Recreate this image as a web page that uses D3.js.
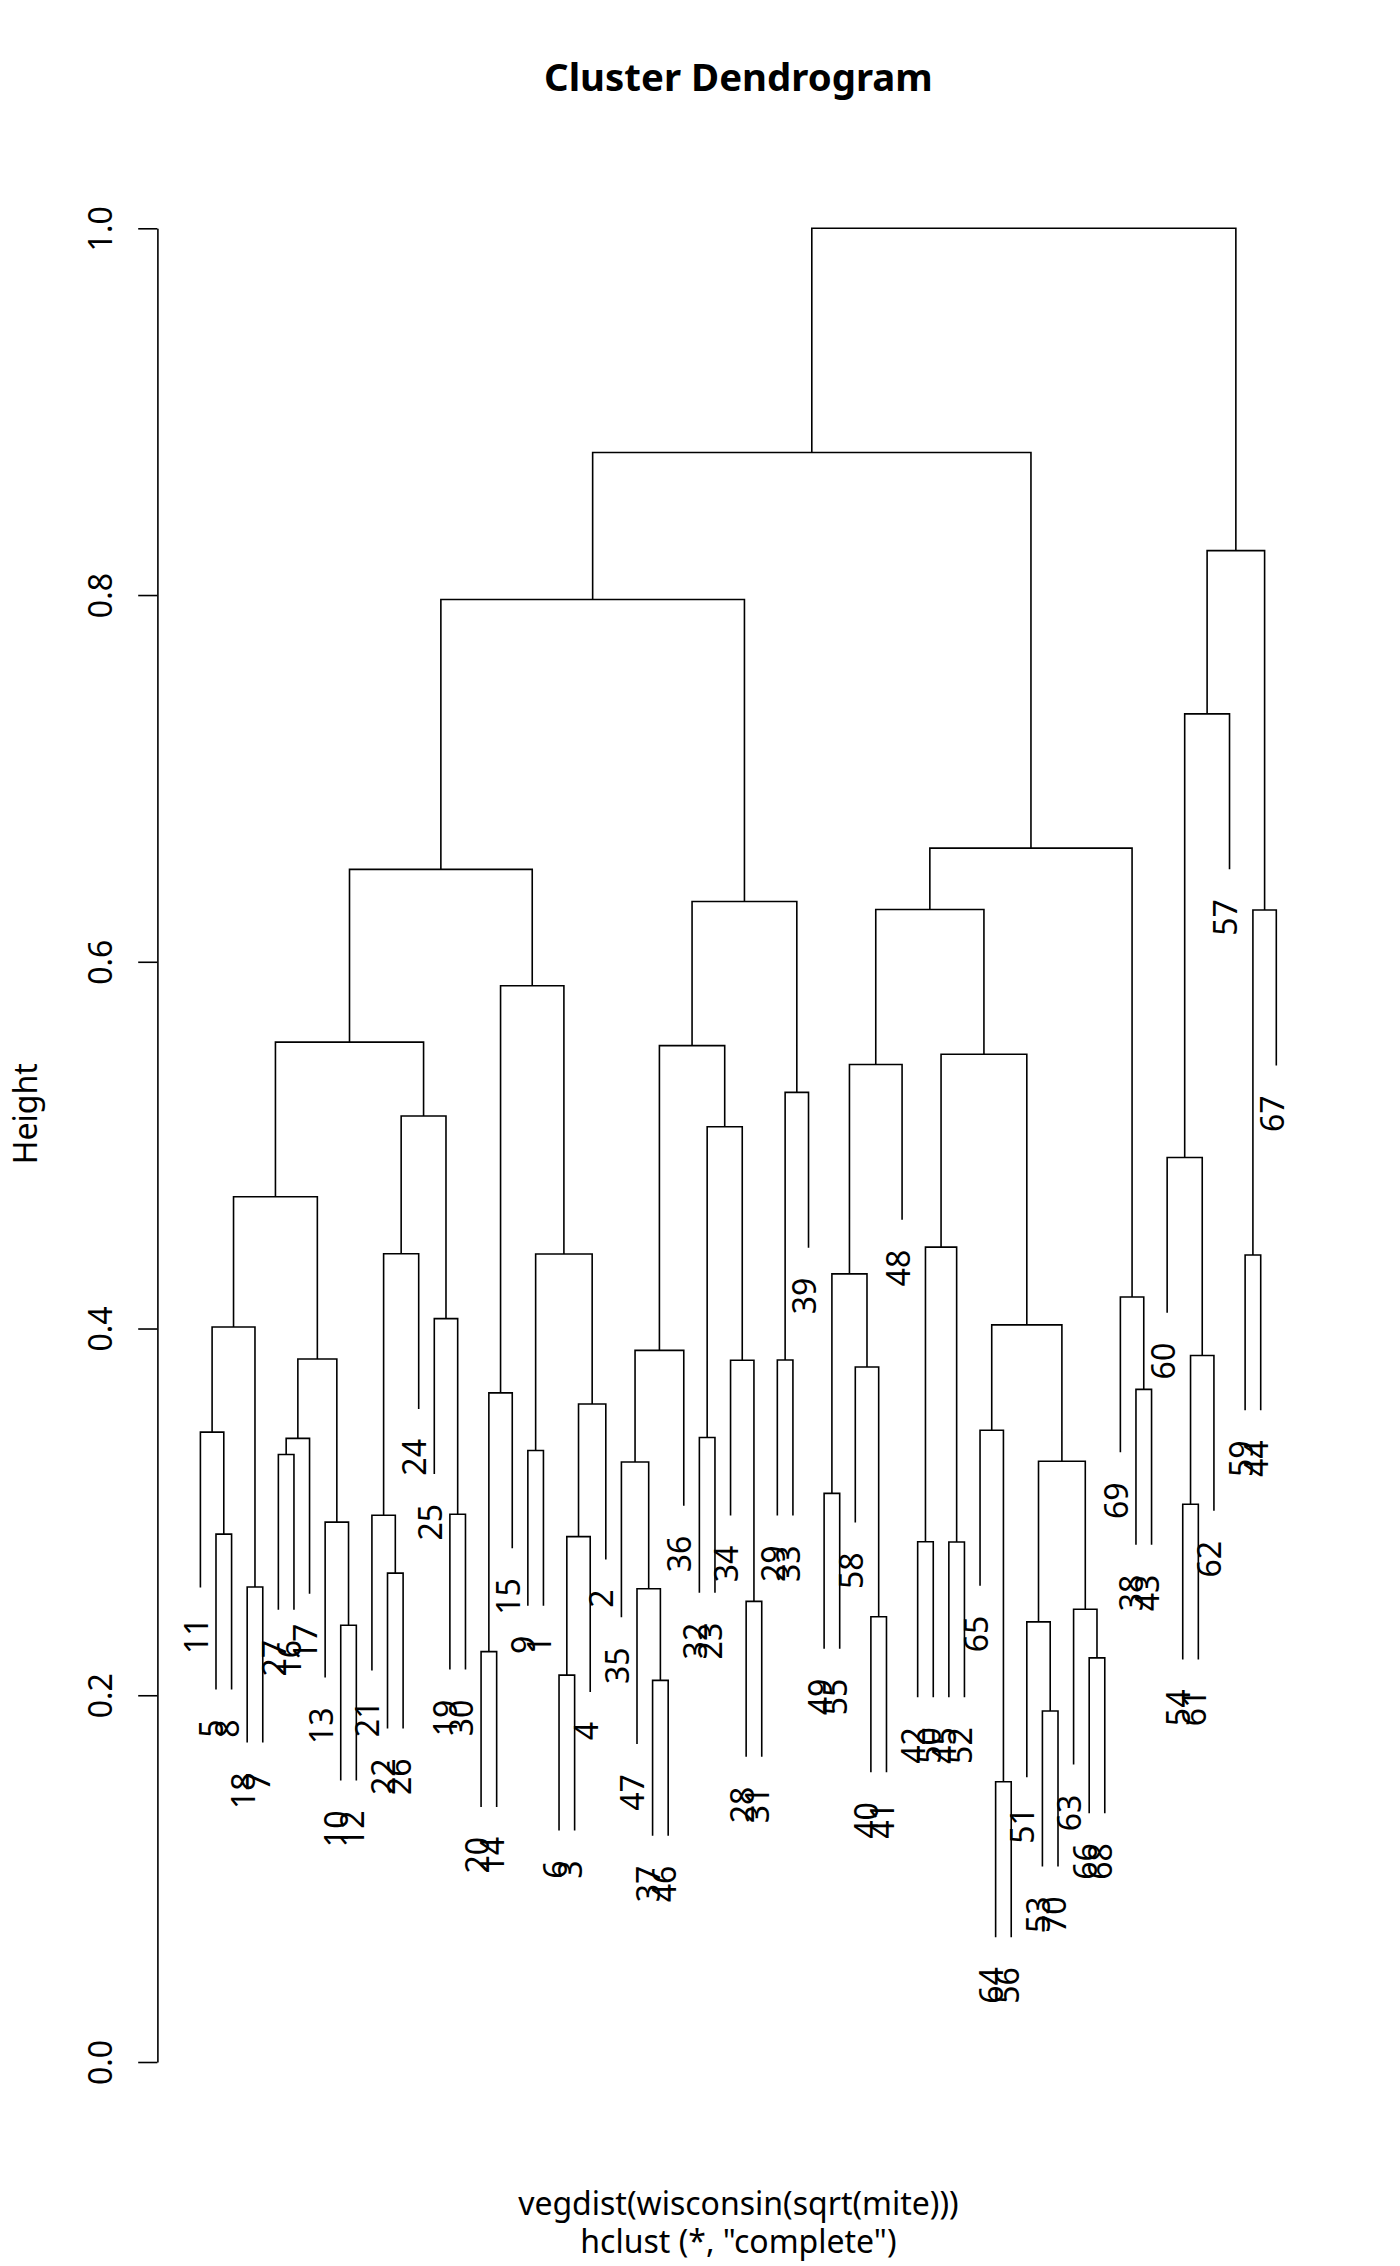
<!DOCTYPE html>
<html><head><meta charset="utf-8">
<script src="https://cdn.jsdelivr.net/npm/d3@7"></script>
<style>
html,body{margin:0;padding:0;background:#fff;}
svg{display:block;}
text{font-family:"Noto Sans","Open Sans",sans-serif;fill:#000;}
</style></head><body>
<svg id="chart" width="1400" height="2266"></svg>
<script>
// ---- data ----
const leafOrder = [11,5,8,18,7,27,16,17,13,10,12,21,22,26,24,25,19,30,20,14,
  15,9,1,6,3,4,2,35,47,37,46,36,32,23,34,28,31,29,33,39,
  49,55,58,40,41,48,42,50,45,52,65,64,56,51,53,70,63,66,68,69,
  38,43,60,54,61,62,57,59,44,67];
// R-style merge table: negative = site number, positive = earlier merge row (1-based)
const mergeLeft  = [-64,-53,-37,-6,-66,-20,-10,-51,-40,-63,-28,-47,-18,-22,-45,-42,4,-5,-13,-21,
  -19,-54,-49,-35,8,-27,-9,26,-32,-11,-65,17,6,-38,-58,-34,-29,28,22,24,
  30,31,-25,-69,23,-59,27,20,16,41,-60,29,48,37,45,49,40,50,33,46,
  55,57,58,61,51,63,65,66,68];
const mergeRight = [-56,-70,-46,-3,-68,-14,-12,2,-41,5,-31,3,-7,-26,-52,-50,-4,-8,7,14,
  -30,-61,-55,12,10,-16,-1,-17,-23,18,1,-2,-15,-43,9,11,-33,19,-62,-36,
  13,25,21,34,35,-44,32,-24,15,38,39,36,43,-39,-48,42,52,53,47,-67,
  56,54,59,44,-57,62,60,64,67];
const mergeHeight = [0.1528,0.1914,0.2081,0.2110,0.2204,0.2238,0.2382,0.2400,0.2428,0.2469,
  0.2512,0.2581,0.2590,0.2666,0.2836,0.2837,0.2865,0.2879,0.2944,0.2982,
  0.2987,0.3042,0.3101,0.3272,0.3276,0.3313,0.3335,0.3401,0.3406,0.3435,
  0.3445,0.3588,0.3649,0.3668,0.3790,0.3827,0.3828,0.3834,0.3853,0.3881,
  0.4008,0.4020,0.4054,0.4172,0.4298,0.4401,0.4406,0.4408,0.4444,0.4719,
  0.4933,0.5100,0.5159,0.5288,0.5440,0.5496,0.5543,0.5562,0.5869,0.6282,
  0.6285,0.6329,0.6504,0.6620,0.7352,0.7976,0.8242,0.8777,1.0000];
const yTicks = [0, 0.2, 0.4, 0.6, 0.8, 1.0];
const titleText = "Cluster Dendrogram";
const xLabelText = "vegdist(wisconsin(sqrt(mite)))";
const subText = 'hclust (*, "complete")';
const yLabelText = "Height";

// ---- layout ----
const svg = d3.select("#chart");
const plotLeft = 157.4, plotRight = 1319.4;
const cx = (plotLeft + plotRight) / 2;
const x = d3.scaleLinear().domain([1, leafOrder.length]).range([200.4, 1276.3]);
const y = d3.scaleLinear().domain([0, 1]).range([2062, 228.3]);
const hang = 0.1 * (d3.max(mergeHeight) - d3.min(mergeHeight));
const leafPos = new Map(leafOrder.map((s, i) => [s, i + 1]));
const lw = 1.6;

const nodeX = [];
const gTree = svg.append("g").attr("fill", "none").attr("stroke", "#000").attr("stroke-width", lw);
const leaves = [];
mergeHeight.forEach((h, i) => {
  const kids = [mergeLeft[i], mergeRight[i]].map(c => {
    if (c < 0) {
      const lx = x(leafPos.get(-c));
      const lh = h - hang;
      leaves.push({site: -c, x: lx, h: lh});
      return {x: lx, h: lh};
    }
    return {x: nodeX[c - 1], h: mergeHeight[c - 1]};
  });
  nodeX[i] = (kids[0].x + kids[1].x) / 2;
  const p = d3.path();
  p.moveTo(kids[0].x, y(kids[0].h));
  p.lineTo(kids[0].x, y(h));
  p.lineTo(kids[1].x, y(h));
  p.lineTo(kids[1].x, y(kids[1].h));
  gTree.append("path").attr("d", p.toString()).attr("stroke-linejoin", "miter").attr("stroke-linecap", "butt");
});

// leaf labels
svg.append("g").selectAll("text").data(leaves).join("text")
  .attr("transform", d => `translate(${d.x + 7.5},${y(d.h) + 30}) rotate(-90)`)
  .attr("text-anchor", "end")
  .attr("font-size", 32)
  .text(d => d.site);

// axis
const axis = d3.axisLeft(y).tickValues(yTicks).tickSize(19.2).tickSizeOuter(0).tickFormat(d3.format(".1f"));
const gA = svg.append("g").attr("transform", `translate(${plotLeft},0)`).call(axis)
  .attr("font-size", null).attr("font-family", null);
gA.select(".domain").attr("stroke", "#000").attr("stroke-width", lw);
gA.selectAll(".tick line").attr("stroke", "#000").attr("stroke-width", lw);
gA.selectAll(".tick text")
  .attr("x", null).attr("dy", null)
  .attr("transform", "translate(-45.4,0) rotate(-90)")
  .attr("text-anchor", "middle")
  .attr("font-size", 32)
  .attr("fill", "#000");

// titles
svg.append("text").attr("x", cx).attr("y", 91).attr("text-anchor", "middle")
  .attr("font-size", 38.4).attr("font-weight", "bold").text(titleText);
svg.append("text").attr("x", cx).attr("y", 2215).attr("text-anchor", "middle")
  .attr("font-size", 32).text(xLabelText);
svg.append("text").attr("x", cx).attr("y", 2253).attr("text-anchor", "middle")
  .attr("font-size", 32).text(subText);
svg.append("text").attr("transform", `translate(37,1113.8) rotate(-90)`).attr("text-anchor", "middle")
  .attr("font-size", 32).text(yLabelText);
</script>
</body></html>
